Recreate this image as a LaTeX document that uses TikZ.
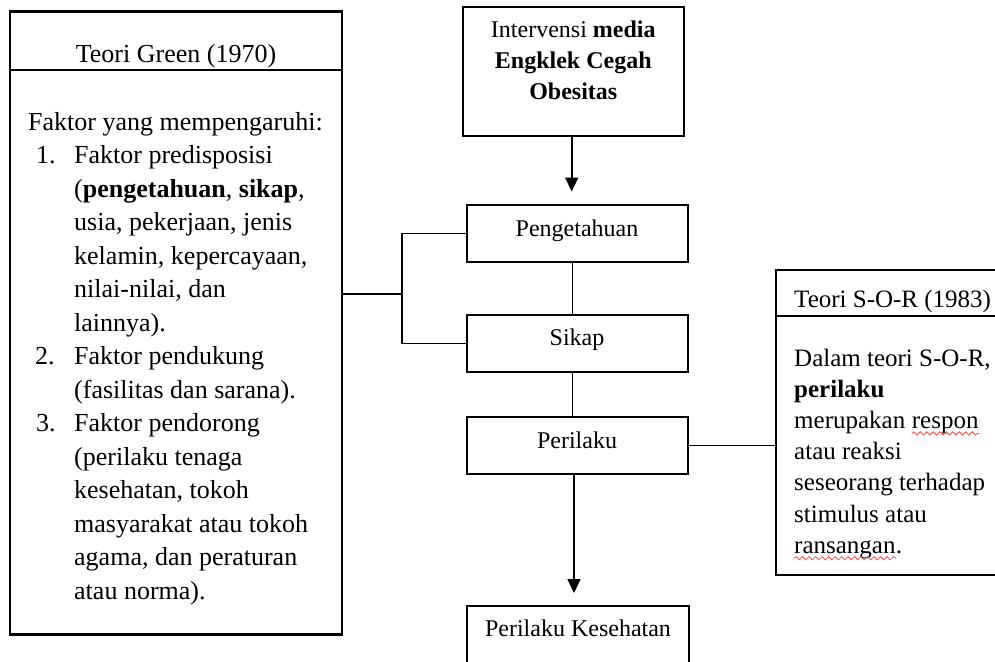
\documentclass[tikz,border=0pt]{standalone}
\usepackage{fontspec}
\setmainfont{Liberation Serif}
\usetikzlibrary{arrows.meta,decorations.pathmorphing}
\begin{document}
\begin{tikzpicture}[x=1pt,y=-1pt,
  boxline/.style={line width=2.1pt},
  box/.style={draw,boxline,rectangle,inner sep=0pt},
  conn/.style={line width=1.6pt},
  arr/.style={conn,-{Triangle[width=13pt,length=14pt]}},
  ltxt/.style={inner sep=0pt,anchor=base west,font=\fontsize{26}{33}\selectfont},
  ltitle/.style={inner sep=0pt,anchor=base,font=\fontsize{26}{33}\selectfont},
  rtxt/.style={inner sep=0pt,anchor=base west,font=\fontsize{25}{32}\selectfont},
  ctxt/.style={inner sep=0pt,anchor=base,font=\fontsize{24}{31}\selectfont},
  squiggle/.style={red!70,line width=0.8pt,decorate,decoration={snake,amplitude=1.6pt,segment length=6.5pt}}
]
\useasboundingbox (0,0) rectangle (995,661);
\clip (0,0) rectangle (995,661);

% boxes
\node[box,minimum width=332pt,minimum height=623pt] (green) at (176,323) {};
\draw[boxline] ([yshift=-59.5pt]green.north west) -- ([yshift=-59.5pt]green.north east);
\node[box,minimum width=221pt,minimum height=129pt] (interv) at (573.3,71.3) {};
\node[box,minimum width=221pt,minimum height=57pt] (peng) at (577.5,233.5) {};
\node[box,minimum width=221pt,minimum height=57pt] (sikap) at (577.5,343.5) {};
\node[box,minimum width=221pt,minimum height=57pt] (peri) at (577.5,445.5) {};
\node[box,minimum width=222pt,minimum height=80pt] (kes) at (578,646) {};
\node[box,minimum width=240pt,minimum height=305pt] (sor) at (896,422.5) {};
\draw[boxline] ([yshift=-47pt]sor.north west) -- ([yshift=-47pt]sor.north east);

% connectors
\coordinate (a1end) at (571.7,191.5);
\draw[arr] (interv.south -| a1end) -- (a1end);
\draw[conn] ([xshift=-5pt]peng.south) -- ([xshift=-5pt]sikap.north);
\draw[conn] ([xshift=-5pt]sikap.south) -- ([xshift=-5pt]peri.north);
\coordinate (a2end) at (574,593);
\draw[arr] (peri.south -| a2end) -- (a2end);
\coordinate (bj) at (402,294);
\draw[conn] (green.east |- bj) -- (bj);
\draw[conn] (peng.west) -| (bj |- sikap.west) -- (sikap.west);
\draw[conn] (peri.east) -- (sor.west |- peri.east);

% left box text
\node[ltitle] (gt) at (176,63) {Teori Green (1970)};
\node[ltxt] (g1) at (28,130) {Faktor yang mempengaruhi:};
\node[ltxt] (n1) at (36,163.5) {1.};
\node[ltxt] (g2) at (74,163.5) {Faktor predisposisi};
\node[ltxt] (g3) at (74,197) {(\textbf{pengetahuan}, \textbf{sikap},};
\node[ltxt] (g4) at (74,230.5) {usia, pekerjaan, jenis};
\node[ltxt] (g5) at (74,264) {kelamin, kepercayaan,};
\node[ltxt] (g6) at (74,297.5) {nilai-nilai, dan};
\node[ltxt] (g7) at (74,331) {lainnya).};
\node[ltxt] (n2) at (35,364.5) {2.};
\node[ltxt] (g8) at (74,364.5) {Faktor pendukung};
\node[ltxt] (g9) at (74,398) {(fasilitas dan sarana).};
\node[ltxt] (n3) at (36,431.5) {3.};
\node[ltxt] (g10) at (74,431.5) {Faktor pendorong};
\node[ltxt] (g11) at (74,465) {(perilaku tenaga};
\node[ltxt] (g12) at (74,498.5) {kesehatan, tokoh};
\node[ltxt] (g13) at (74,532) {masyarakat atau tokoh};
\node[ltxt] (g14) at (74,565.5) {agama, dan peraturan};
\node[ltxt] (g15) at (74,599) {atau norma).};

% top box text
\node[ctxt] (t1) at (573.3,37.3) {Intervensi \textbf{media}};
\node[ctxt] (t2) at (573.3,68) {\textbf{Engklek Cegah}};
\node[ctxt] (t3) at (573.3,99.3) {\textbf{Obesitas}};

% center texts
\node[ctxt] (pt) at (577,236.7) {Pengetahuan};
\node[ctxt] (st) at (577,345.7) {Sikap};
\node[ctxt] (prt) at (577,448.3) {Perilaku};
\node[ctxt] (kt) at (578,636.7) {Perilaku Kesehatan};

% right box text
\node[rtxt] (rt) at (794,307) {Teori S-O-R (1983)};
\node[rtxt] (r1) at (794,366) {Dalam teori S-O-R,};
\node[rtxt] (r2) at (794,397.2) {\textbf{perilaku}};
\node[rtxt] (r3a) at (794,428.4) {merupakan};
\node[rtxt] (r3b) at ([xshift=6.25pt]r3a.base east) {respon};
\node[rtxt] (r4) at (794,459.6) {atau reaksi};
\node[rtxt] (r5) at (794,490.8) {seseorang terhadap};
\node[rtxt] (r6) at (794,522) {stimulus atau};
\node[rtxt] (r7a) at (794,553.2) {ransangan};
\node[rtxt] (r7b) at (r7a.base east) {.};
\draw[squiggle] ([yshift=-5pt]r3b.base west) -- ([yshift=-5pt]r3b.base east);
\draw[squiggle] ([yshift=-5pt]r7a.base west) -- ([yshift=-5pt]r7a.base east);
\end{tikzpicture}
\end{document}
